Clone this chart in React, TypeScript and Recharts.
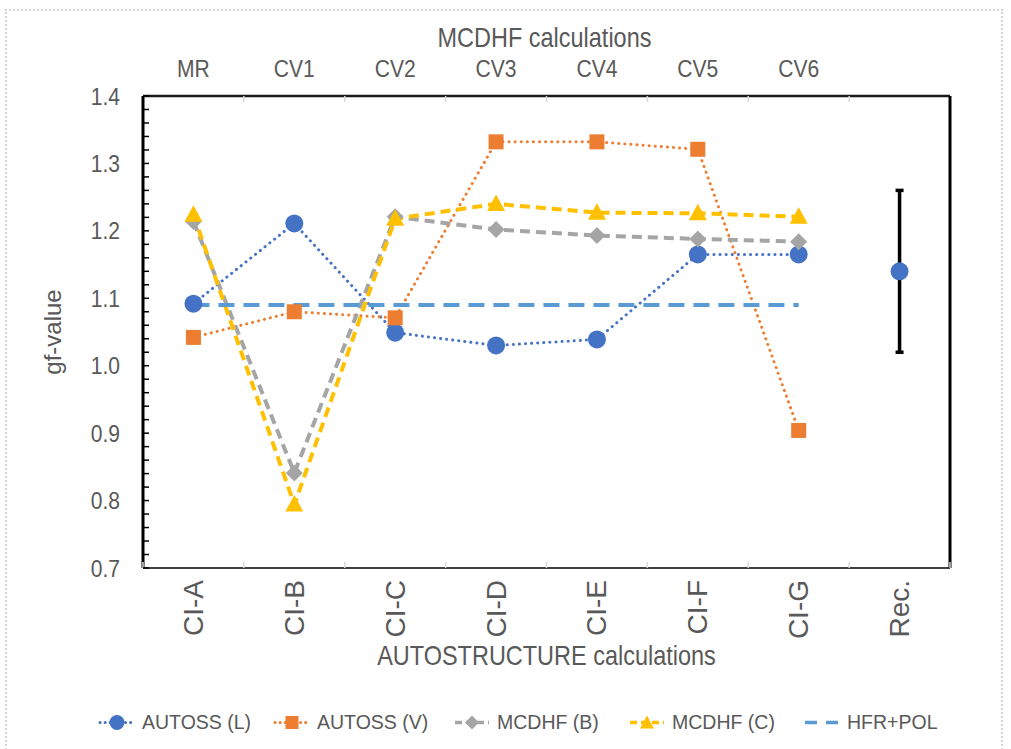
import React from "react";
import { ComposedChart, Line, XAxis, YAxis, ErrorBar } from "recharts";

// values
const categories = ["CI-A", "CI-B", "CI-C", "CI-D", "CI-E", "CI-F", "CI-G", "Rec."];
const topLabels = ["MR", "CV1", "CV2", "CV3", "CV4", "CV5", "CV6", ""];
const autossL = [1.092, 1.211, 1.049, 1.03, 1.039, 1.165, 1.165, null];
const autossV = [1.042, 1.08, 1.071, 1.332, 1.332, 1.321, 0.904, null];
const mcdhfB = [1.214, 0.841, 1.221, 1.202, 1.193, 1.188, 1.184, null];
const mcdhfC = [1.224, 0.794, 1.218, 1.24, 1.227, 1.226, 1.221, null];
const hfrPol = [1.09, 1.09, 1.09, 1.09, 1.09, 1.09, 1.09, null];
const recValue = [null, null, null, null, null, null, null, 1.14];
const recError = [null, null, null, null, null, null, null, 0.12];

const yMajorTicks = [0.7, 0.8, 0.9, 1.0, 1.1, 1.2, 1.3, 1.4];
const yAllTicks = [
  0.7, 0.72, 0.74, 0.76, 0.78, 0.8, 0.82, 0.84, 0.86, 0.88, 0.9, 0.92, 0.94, 0.96, 0.98,
  1.0, 1.02, 1.04, 1.06, 1.08, 1.1, 1.12, 1.14, 1.16, 1.18, 1.2, 1.22, 1.24, 1.26, 1.28,
  1.3, 1.32, 1.34, 1.36, 1.38, 1.4,
];

const data = categories.map((c, i) => ({
  cat: c,
  top: topLabels[i],
  autossL: autossL[i],
  autossV: autossV[i],
  mcdhfB: mcdhfB[i],
  mcdhfC: mcdhfC[i],
  hfrPol: hfrPol[i],
  rec: recValue[i],
  recErr: recError[i],
}));

const BLUE = "#4472C4";
const ORANGE = "#ED7D31";
const GRAY = "#A5A5A5";
const YELLOW = "#FFC000";
const LIGHTBLUE = "#5B9BD5";
const TEXT = "#595959";
const FONT = '"Liberation Sans", Arial, sans-serif';

// layout
const W = 1011;
const H = 749;
const PLOT_LEFT = 143;
const PLOT_RIGHT = 950;
const PLOT_TOP = 96;
const PLOT_BOTTOM = 568;
const HALF_BAND = (PLOT_RIGHT - PLOT_LEFT) / categories.length / 2;
const SQUEEZE = 0.86; // mimic the narrow font of the original

const NarrowText = ({ x, y, size, anchor = "middle", baseline, children }: any) => (
  <text
    transform={`translate(${x},${y}) scale(${SQUEEZE},1)`}
    textAnchor={anchor}
    dominantBaseline={baseline}
    fill={TEXT}
    fontSize={size}
    fontFamily={FONT}
  >
    {children}
  </text>
);

const Square = (p: any) => {
  if (p.cy == null || p.cx == null) return <g key={`sq-${p.index}`} />;
  return <rect key={`sq-${p.index}`} x={p.cx - 7.5} y={p.cy - 7.5} width={15} height={15} fill={ORANGE} />;
};
const Diamond = (p: any) => {
  if (p.cy == null || p.cx == null) return <g key={`di-${p.index}`} />;
  const { cx, cy } = p;
  return (
    <polygon key={`di-${p.index}`} points={`${cx},${cy - 8.5} ${cx + 8.5},${cy} ${cx},${cy + 8.5} ${cx - 8.5},${cy}`} fill={GRAY} />
  );
};
const Triangle = (p: any) => {
  if (p.cy == null || p.cx == null) return <g key={`tr-${p.index}`} />;
  const { cx, cy } = p;
  return (
    <polygon key={`tr-${p.index}`} points={`${cx},${cy - 9.5} ${cx + 9},${cy + 7} ${cx - 9},${cy + 7}`} fill={YELLOW} />
  );
};

const YTick = (props: any) => {
  const { y, payload } = props;
  const v = payload.value;
  const major = yMajorTicks.some((m) => Math.abs(m - v) < 1e-6);
  return (
    <g>
      <line x1={PLOT_LEFT} x2={PLOT_LEFT + 6} y1={y} y2={y} stroke="#000" strokeWidth={1.5} />
      {major && (
        <NarrowText x={PLOT_LEFT - 23} y={y} size={24.5} anchor="end" baseline="central">
          {v.toFixed(1)}
        </NarrowText>
      )}
    </g>
  );
};

const BottomTick = (props: any) => {
  const { x, payload, index } = props;
  return (
    <g>
      <line x1={x - HALF_BAND} x2={x - HALF_BAND} y1={PLOT_BOTTOM} y2={PLOT_BOTTOM - 6} stroke="#d9d9d9" strokeWidth={1.5} />
      <text
        transform={`translate(${x},${PLOT_BOTTOM + 12}) rotate(-90)`}
        textAnchor="end"
        dominantBaseline="central"
        fill={TEXT}
        fontSize={28}
        fontFamily={FONT}
      >
        {payload.value}
      </text>
      {index === categories.length - 1 && (
        <line x1={x + HALF_BAND} x2={x + HALF_BAND} y1={PLOT_BOTTOM} y2={PLOT_BOTTOM - 6} stroke="#d9d9d9" strokeWidth={1.5} />
      )}
    </g>
  );
};

const TopTick = (props: any) => {
  const { x, payload, index } = props;
  return (
    <g>
      {index > 0 && (
        <line x1={x - HALF_BAND} x2={x - HALF_BAND} y1={PLOT_TOP} y2={PLOT_TOP + 6} stroke="#d9d9d9" strokeWidth={1.5} />
      )}
      <NarrowText x={x} y={PLOT_TOP - 19} size={24.5}>
        {payload.value}
      </NarrowText>
    </g>
  );
};

const YTitle = () => (
  <text
    transform={`translate(52,${(PLOT_TOP + PLOT_BOTTOM) / 2}) rotate(-90)`}
    textAnchor="middle"
    dominantBaseline="central"
    fill={TEXT}
    fontSize={24}
    fontFamily={FONT}
  >
    gf-value
  </text>
);

const BottomTitle = () => (
  <NarrowText x={(PLOT_LEFT + PLOT_RIGHT) / 2} y={PLOT_BOTTOM + 97} size={27.3}>
    AUTOSTRUCTURE calculations
  </NarrowText>
);

const TopTitle = () => (
  <NarrowText x={(PLOT_LEFT + PLOT_RIGHT) / 2 - 2} y={47} size={27.3}>
    MCDHF calculations
  </NarrowText>
);

const legendItems = [
  { name: "AUTOSS (L)", color: BLUE, dash: "0.1 5", width: 3, marker: "circle" },
  { name: "AUTOSS (V)", color: ORANGE, dash: "0.1 5", width: 3, marker: "square" },
  { name: "MCDHF (B)", color: GRAY, dash: "7 4", width: 3.5, marker: "diamond" },
  { name: "MCDHF (C)", color: YELLOW, dash: "7 4", width: 3.5, marker: "triangle" },
  { name: "HFR+POL", color: LIGHTBLUE, dash: "12 9", width: 3.5, marker: "none" },
];
const legendLeft = [98, 273, 453, 628, 803];

const LegendIcon = ({ item }: any) => (
  <svg width={38} height={20} style={{ marginRight: 6, flex: "none" }}>
    <line
      x1={2}
      x2={36}
      y1={10}
      y2={10}
      stroke={item.color}
      strokeWidth={item.width}
      strokeDasharray={item.dash}
      strokeLinecap={item.dash.startsWith("0.1") ? "round" : "butt"}
    />
    {item.marker === "circle" && <circle cx={19} cy={10} r={7.5} fill={item.color} />}
    {item.marker === "square" && <rect x={12.5} y={3.5} width={13} height={13} fill={item.color} />}
    {item.marker === "diamond" && <polygon points="19,3 26,10 19,17 12,10" fill={item.color} />}
    {item.marker === "triangle" && <polygon points="19,3 26,16 12,16" fill={item.color} />}
  </svg>
);

export default function App() {
  return (
    <div style={{ position: "fixed", left: 0, top: 0, width: W, height: H, background: "#fff", overflow: "hidden" }}>
      <div
        style={{
          position: "absolute",
          left: 5,
          top: 9,
          width: 998,
          height: 780,
          border: "2px dotted #d4d4d4",
          boxSizing: "border-box",
        }}
      />
      <div style={{ position: "absolute", left: 0, top: 0 }}>
        <ComposedChart
          width={W}
          height={H}
          data={data}
          margin={{ top: 0, right: 0, bottom: 0, left: PLOT_LEFT - 70 }}
        >
          <XAxis
            dataKey="cat"
            height={H - PLOT_BOTTOM}
            interval={0}
            padding={{ left: HALF_BAND, right: HALF_BAND }}
            tickSize={0}
            tickMargin={0}
            tick={<BottomTick />}
            axisLine={{ stroke: "#404040", strokeWidth: 2 }}
            label={<BottomTitle />}
          />
          <XAxis
            xAxisId="top"
            dataKey="top"
            orientation="top"
            height={PLOT_TOP}
            interval={0}
            padding={{ left: HALF_BAND, right: HALF_BAND }}
            tickSize={0}
            tickMargin={0}
            tick={<TopTick />}
            axisLine={{ stroke: "#1a1a1a", strokeWidth: 2.5 }}
            label={<TopTitle />}
          />
          <YAxis
            type="number"
            domain={[0.7, 1.4]}
            ticks={yAllTicks}
            interval={0}
            width={70}
            tickSize={0}
            tickMargin={0}
            tick={<YTick />}
            axisLine={{ stroke: "#000", strokeWidth: 3 }}
            label={<YTitle />}
          />
          <YAxis
            yAxisId="right"
            orientation="right"
            type="number"
            domain={[0.7, 1.4]}
            width={W - PLOT_RIGHT}
            tick={false}
            tickLine={false}
            axisLine={{ stroke: "#000", strokeWidth: 3 }}
          />
          <Line
            dataKey="autossL"
            stroke={BLUE}
            strokeWidth={3}
            strokeDasharray="0.1 6"
            strokeLinecap="round"
            dot={{ r: 9, fill: BLUE, stroke: BLUE, strokeWidth: 0 }}
            activeDot={false}
            isAnimationActive={false}
          />
          <Line
            dataKey="autossV"
            stroke={ORANGE}
            strokeWidth={3}
            strokeDasharray="0.1 6"
            strokeLinecap="round"
            dot={Square}
            activeDot={false}
            isAnimationActive={false}
          />
          <Line
            dataKey="mcdhfB"
            stroke={GRAY}
            strokeWidth={4}
            strokeDasharray="10 6"
            dot={Diamond}
            activeDot={false}
            isAnimationActive={false}
          />
          <Line
            dataKey="mcdhfC"
            stroke={YELLOW}
            strokeWidth={4}
            strokeDasharray="10 6"
            dot={Triangle}
            activeDot={false}
            isAnimationActive={false}
          />
          <Line
            dataKey="hfrPol"
            stroke={LIGHTBLUE}
            strokeWidth={4}
            strokeDasharray="16 9"
            dot={false}
            activeDot={false}
            isAnimationActive={false}
          />
          <Line
            dataKey="rec"
            stroke="none"
            dot={{ r: 9, fill: BLUE, stroke: BLUE, strokeWidth: 0 }}
            activeDot={false}
            isAnimationActive={false}
          >
            <ErrorBar dataKey="recErr" width={4} stroke="#000" strokeWidth={3.5} direction="y" />
          </Line>
        </ComposedChart>
      </div>
      {legendItems.map((item, i) => (
        <div
          key={item.name}
          style={{
            position: "absolute",
            left: legendLeft[i],
            top: 722,
            transform: "translateY(-50%)",
            display: "flex",
            alignItems: "center",
            whiteSpace: "nowrap",
            fontFamily: FONT,
            fontSize: 19.5,
            color: TEXT,
          }}
        >
          <LegendIcon item={item} />
          <span>{item.name}</span>
        </div>
      ))}
    </div>
  );
}
